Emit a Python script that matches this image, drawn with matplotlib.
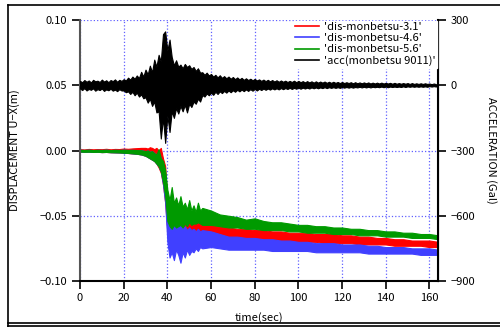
import matplotlib.pyplot as plt
import numpy as np
from matplotlib.lines import Line2D

plt.rcParams['font.family'] = ['Noto Sans CJK JP', 'DejaVu Sans']
plt.rcParams['font.size'] = 8

# acceleration trace: upper / lower peaks per second (Gal)
t_acc = np.arange(0, 164, 1)
acc_hi = [20, 14, 24, 16, 22, 13, 25, 18, 21, 15, 26, 17, 23, 14, 24, 19, 27, 16, 25, 20,
          28, 22, 35, 26, 40, 30, 45, 33, 62, 40,
          72, 50, 90, 60, 118, 85, 140, 110, 235, 248,
          160, 210, 130, 92, 115, 85, 95, 78, 98, 84,
          92, 75, 84, 66, 78, 58, 60, 48, 58, 45,
          52, 40, 48, 36, 46, 34, 42, 32, 40, 30,
          38, 28, 36, 27, 34, 25, 32, 24, 30, 23,
          29, 22, 27, 20, 26, 19, 25, 18, 24, 17,
          23, 16, 22, 16, 21, 15, 20, 15, 21, 14,
          20, 14, 19, 13, 19, 13, 18, 12, 18, 12,
          17, 12, 17, 11, 16, 11, 16, 11, 15, 10,
          15, 10, 14, 10, 14, 9, 14, 9, 13, 9,
          13, 9, 13, 8, 12, 8, 12, 8, 12, 8,
          11, 8, 11, 7, 11, 7, 10, 7, 10, 7,
          10, 6, 10, 6, 9, 6, 9, 6, 9, 6,
          8, 5, 8, 5]
acc_lo = [-15, -22, -13, -24, -17, -21, -14, -25, -18, -22, -15, -26, -19, -23, -16, -25, -20, -27, -18, -24,
          -24, -32, -28, -40, -30, -46, -34, -52, -42, -60,
          -55, -80, -62, -95, -75, -125, -120, -245, -150, -265,
          -140, -215, -120, -150, -105, -130, -95, -120, -90, -125,
          -85, -100, -75, -85, -62, -75, -45, -52, -38, -46,
          -34, -44, -30, -40, -28, -36, -26, -34, -24, -32,
          -23, -30, -21, -28, -20, -27, -19, -26, -18, -25,
          -17, -24, -16, -22, -15, -21, -15, -20, -14, -19,
          -14, -19, -13, -18, -13, -17, -12, -17, -12, -16,
          -11, -16, -11, -15, -11, -15, -10, -14, -10, -14,
          -10, -13, -9, -13, -9, -12, -9, -12, -9, -12,
          -8, -11, -8, -11, -8, -11, -8, -10, -7, -10,
          -7, -10, -7, -10, -7, -9, -7, -9, -6, -9,
          -6, -9, -6, -8, -6, -8, -6, -8, -5, -8,
          -5, -7, -5, -7, -5, -7, -5, -7, -5, -7,
          -4, -6, -4, -6]

# displacement envelopes (m)
t = np.concatenate([np.arange(0, 30, 2), np.arange(30, 56, 1), np.arange(56, 165, 4)])
red_hi = [0.0010, 0.0008, 0.0012, 0.0009, 0.0011, 0.0010, 0.0013, 0.0009, 0.0012, 0.0011,
          0.0015, 0.0013, 0.0016, 0.0018, 0.0020,
          0.002, 0.0015, 0.0025, 0.002, 0.001, 0.002, 0.000, 0.002, -0.006, -0.012, -0.040,
          -0.045, -0.035, -0.048, -0.044, -0.050, -0.047, -0.052, -0.049, -0.053, -0.050,
          -0.054, -0.051, -0.055, -0.052, -0.055,
          -0.055, -0.057, -0.058, -0.059, -0.060, -0.060, -0.061, -0.061, -0.062, -0.062,
          -0.063, -0.063, -0.063, -0.064, -0.064, -0.064, -0.065, -0.065, -0.066, -0.066,
          -0.067, -0.067, -0.068, -0.068, -0.069, -0.069, -0.069, -0.070]
red_lo = [-0.0009, -0.0010, -0.0009, -0.0011, -0.0010, -0.0012, -0.0011, -0.0013, -0.0014,
          -0.0015, -0.0017, -0.0019, -0.0022, -0.0025, -0.0030,
          -0.004, -0.005, -0.006, -0.007, -0.008, -0.010, -0.013, -0.017, -0.026, -0.040,
          -0.062, -0.075, -0.068, -0.072, -0.066, -0.070, -0.064, -0.068, -0.065, -0.067,
          -0.066, -0.067, -0.065, -0.066, -0.065, -0.066,
          -0.066, -0.066, -0.067, -0.067, -0.068, -0.068, -0.068, -0.069, -0.069, -0.069,
          -0.070, -0.070, -0.070, -0.070, -0.071, -0.071, -0.071, -0.071, -0.072, -0.072,
          -0.072, -0.072, -0.073, -0.073, -0.073, -0.073, -0.074, -0.074]
blue_hi = [0.0005, 0.0004, 0.0006, 0.0003, 0.0005, 0.0004, 0.0006, 0.0003, 0.0005, 0.0004,
           0.0006, 0.0004, 0.0005, 0.0003, 0.0002,
           -0.0005, 0.0, -0.001, -0.0005, -0.002, -0.003, -0.002, -0.006, -0.010, -0.018,
           -0.050, -0.056, -0.052, -0.058, -0.055, -0.059, -0.056, -0.060, -0.058, -0.061,
           -0.059, -0.061, -0.060, -0.062, -0.060, -0.062,
           -0.061, -0.062, -0.064, -0.066, -0.066, -0.067, -0.067, -0.068, -0.068, -0.069,
           -0.069, -0.070, -0.070, -0.071, -0.071, -0.071, -0.072, -0.072, -0.072, -0.073,
           -0.073, -0.074, -0.074, -0.074, -0.075, -0.075, -0.075, -0.076]
blue_lo = [-0.0008, -0.0010, -0.0009, -0.0011, -0.0010, -0.0012, -0.0011, -0.0013, -0.0014,
           -0.0015, -0.0017, -0.0019, -0.0022, -0.0025, -0.0030,
           -0.004, -0.005, -0.006, -0.007, -0.008, -0.010, -0.012, -0.016, -0.026, -0.040,
           -0.070, -0.082, -0.078, -0.084, -0.076, -0.080, -0.086, -0.078, -0.082, -0.076,
           -0.080, -0.077, -0.078, -0.075, -0.077, -0.074,
           -0.075, -0.074, -0.075, -0.076, -0.076, -0.076, -0.076, -0.076, -0.077, -0.077,
           -0.077, -0.077, -0.077, -0.078, -0.078, -0.078, -0.078, -0.078, -0.078, -0.079,
           -0.079, -0.079, -0.079, -0.079, -0.079, -0.080, -0.080, -0.080]
green_hi = [0.0005, 0.0004, 0.0006, 0.0003, 0.0005, 0.0004, 0.0006, 0.0003, 0.0005, 0.0004,
            0.0006, 0.0004, 0.0005, 0.0003, 0.0002,
            -0.0005, 0.0, -0.001, -0.0005, -0.002, -0.003, 0.001, -0.006, -0.008, -0.015,
            -0.030, -0.038, -0.028, -0.040, -0.036, -0.042, -0.035, -0.043, -0.040, -0.045,
            -0.038, -0.046, -0.042, -0.047, -0.040, -0.046,
            -0.044, -0.046, -0.049, -0.050, -0.051, -0.053, -0.052, -0.054, -0.055, -0.055,
            -0.056, -0.057, -0.057, -0.058, -0.058, -0.059, -0.059, -0.060, -0.060, -0.061,
            -0.061, -0.062, -0.062, -0.063, -0.063, -0.064, -0.064, -0.065]
green_lo = [-0.0008, -0.0010, -0.0009, -0.0011, -0.0010, -0.0012, -0.0011, -0.0013, -0.0014,
            -0.0015, -0.0017, -0.0019, -0.0022, -0.0025, -0.0030,
            -0.004, -0.005, -0.006, -0.007, -0.008, -0.010, -0.012, -0.016, -0.024, -0.035,
            -0.054, -0.058, -0.060, -0.057, -0.059, -0.058, -0.057, -0.059, -0.056, -0.058,
            -0.055, -0.057, -0.056, -0.056, -0.055, -0.056,
            -0.057, -0.057, -0.058, -0.059, -0.059, -0.060, -0.060, -0.061, -0.061, -0.061,
            -0.062, -0.062, -0.063, -0.063, -0.063, -0.064, -0.064, -0.064, -0.065, -0.065,
            -0.065, -0.066, -0.066, -0.066, -0.067, -0.067, -0.067, -0.068]

labels = ["'dis-monbetsu-3.1'", "'dis-monbetsu-4.6'", "'dis-monbetsu-5.6'", "'acc(monbetsu 9011)'"]
colors = ['#ff0000', '#4040ff', '#009a00', '#000000']

fig = plt.figure(figsize=(5, 3.27), dpi=100)
ax = fig.add_axes([0.16, 0.1407, 0.7154, 0.7981])
ax2 = ax.twinx()

for hi, lo, c in [(red_hi, red_lo, colors[0]), (blue_hi, blue_lo, colors[1]), (green_hi, green_lo, colors[2])]:
    ax.fill_between(t, lo, hi, color=c, lw=0.8, zorder=2)
ax2.fill_between(t_acc, acc_lo, acc_hi, color='black', lw=0.8)

ax.set_xlim(0, 163.8)
ax.set_ylim(-0.1, 0.1)
ax.set_yticks([-0.1, -0.05, 0, 0.05, 0.1])
ax.set_yticklabels(['−0.10', '−0.05', '0.00', '0.05', '0.10'])
ax.set_xticks(np.arange(0, 161, 20))
ax2.set_ylim(-900, 300)
ax2.set_yticks([-900, -600, -300, 0, 300])

ax.grid(True, color='#6060ff', linestyle=':', linewidth=0.9)
for a in (ax, ax2):
    a.spines['top'].set_visible(False)
    a.tick_params(direction='out', length=6, width=1.2, pad=3)
ax.spines['left'].set_color('#555555')
ax.spines['left'].set_linewidth(1.5)
ax.spines['bottom'].set_linewidth(1.5)
ax2.spines['right'].set_linewidth(1.5)
ax2.spines['left'].set_visible(False)
ax2.spines['bottom'].set_visible(False)

ax.set_xlabel('time(sec)', labelpad=6)
ax.set_ylabel('DISPLACEMENT U−X(m)', labelpad=14)
ax2.set_ylabel('ACCELERATION (Gal)', rotation=-90, labelpad=16)

handles = [Line2D([], [], color=c, lw=1.2) for c in colors]
leg = ax2.legend(handles, labels, loc='upper right', frameon=True, framealpha=1,
                 edgecolor='white', fancybox=False, handlelength=2.2, handletextpad=0.4,
                 labelspacing=0.1, borderpad=0.1, borderaxespad=0.1)

# outer frame
fig.add_artist(Line2D([0.016, 0.016], [0.0, 0.985], color='black', lw=1.2))
fig.add_artist(Line2D([0.016, 1.0], [0.985, 0.985], color='black', lw=1.2))
fig.add_artist(Line2D([0.016, 1.0], [0.012, 0.012], color='black', lw=1.2))
fig.add_artist(Line2D([0.016, 1.0], [0.003, 0.003], color='black', lw=1.2))

fig.savefig('out.png', dpi=100)
